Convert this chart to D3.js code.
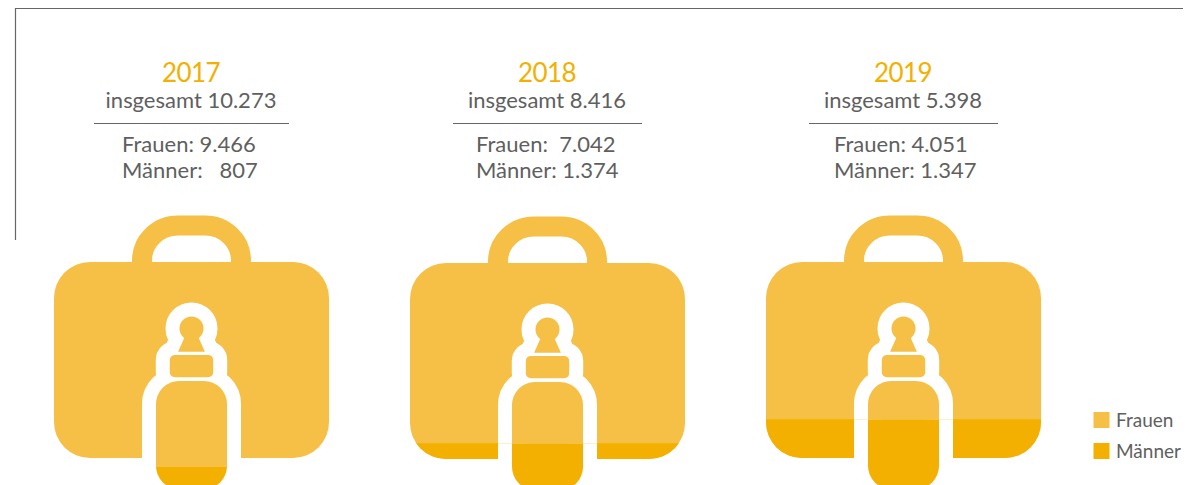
<!DOCTYPE html>
<html>
<head>
<meta charset="utf-8">
<script src="https://cdn.jsdelivr.net/npm/d3@7"></script>
<style>
  html, body { margin: 0; padding: 0; background: #fff; overflow: hidden; }
  text { font-family: Lato, "Open Sans", sans-serif; fill: #5f5f5f; white-space: pre; }
</style>
</head>
<body>
<div id="chart"></div>
<script>
// values
const years = ["2017", "2018", "2019"];
const total = [10273, 8416, 5398];
const frauen = [9466, 7042, 4051];
const maenner = [807, 1374, 1347];
const seriesNames = ["Frauen", "Männer"];

const width = 1192, height = 485;
const lightCol = "#f6c046", darkCol = "#f3b000", lineCol = "#666666";

const svg = d3.select("#chart").append("svg")
  .attr("width", width)
  .attr("height", height)
  .style("display", "block");

// german number format, 10.273
const de = d3.formatLocale({ decimal: ",", thousands: ".", grouping: [3], currency: ["", " €"] });
const fmt = de.format(",d");

const xScale = d3.scalePoint().domain(years).range([191.5, 903.5]);
// share of men -> fill level of the icon
const yScale = d3.scaleLinear().domain([0, 1]).range([489, 209]);
const colorScale = d3.scaleOrdinal().domain(seriesNames).range([lightCol, darkCol]);

// frame top left
svg.append("path")
  .attr("d", d3.line()([[15.5, 240], [15.5, 8.5], [1183, 8.5]]))
  .attr("fill", "none")
  .attr("stroke", lineCol)
  .attr("stroke-width", 1.2);

// one suitcase + bottle in a given colour, local x is centred
function drawIcon(g, col) {
  g.append("rect") // handle
    .attr("x", -49.5).attr("y", 225.5)
    .attr("width", 99).attr("height", 70)
    .attr("rx", 36)
    .attr("fill", "none").attr("stroke", col).attr("stroke-width", 20);
  g.append("rect") // case
    .attr("x", -137.5).attr("y", 262)
    .attr("width", 275).attr("height", 196)
    .attr("rx", 36)
    .attr("fill", col);

  // bottle: white halo first, then the parts on top
  [["#fff", 28], [col, 0]].forEach(([c, sw]) => {
    const b = g.append("g")
      .attr("fill", c)
      .attr("stroke", sw ? c : "none")
      .attr("stroke-width", sw)
      .attr("stroke-linejoin", "round");
    b.append("circle").attr("cx", 0).attr("cy", 328.5).attr("r", 12);
    b.append("path").attr("d", "M-6.8,337L6.8,337L13.4,351.7L-13.4,351.7Z");
    b.append("rect")
      .attr("x", -21.7).attr("y", 355)
      .attr("width", 43.4).attr("height", 22.3)
      .attr("rx", 5);
    b.append("rect")
      .attr("x", -35.5).attr("y", 381)
      .attr("width", 71).attr("height", 108)
      .attr("rx", 23);
  });
}

const dy = [0, 1, 0]; // middle icon sits a pixel lower
const ruleHalf = [97.5, 94.5, 94.5]; // rule under the total, first one is wider
const labelLeft = [69.5, 71.5, 69.5];

years.forEach((yr, i) => {
  const cx = xScale(yr);
  const share = maenner[i] / total[i];

  const light = svg.append("g").attr("transform", `translate(${cx},${dy[i]})`);
  drawIcon(light, lightCol);

  svg.append("clipPath").attr("id", "level" + i)
    .append("rect")
    .attr("x", 0).attr("y", yScale(share))
    .attr("width", width).attr("height", height - yScale(share));

  const dark = svg.append("g")
    .attr("clip-path", `url(#level${i})`)
    .append("g")
    .attr("transform", `translate(${cx},${dy[i]})`);
  drawIcon(dark, darkCol);

  // labels
  svg.append("text")
    .attr("x", cx - 0.5).attr("y", 82)
    .attr("text-anchor", "middle")
    .attr("font-size", 26)
    .attr("letter-spacing", -0.6)
    .style("fill", darkCol)
    .text(yr);
  svg.append("text")
    .attr("x", cx - 0.5).attr("y", 108)
    .attr("text-anchor", "middle")
    .attr("font-size", 22)
    .text("insgesamt " + fmt(total[i]));
  svg.append("line")
    .attr("x1", cx - ruleHalf[i]).attr("x2", cx + ruleHalf[i])
    .attr("y1", 123.5).attr("y2", 123.5)
    .attr("stroke", lineCol)
    .attr("stroke-width", 1.2);
  svg.append("text")
    .attr("x", cx - labelLeft[i]).attr("y", 152)
    .attr("font-size", 22)
    .text("Frauen: " + (i == 1 ? " " : "") + fmt(frauen[i]));
  svg.append("text")
    .attr("x", cx - labelLeft[i]).attr("y", 178)
    .attr("font-size", 22)
    .text("Männer: " + (maenner[i] < 1000 ? "  " : "") + fmt(maenner[i]));
});

// legend
const legend = svg.selectAll(".legend")
  .data(seriesNames)
  .enter()
  .append("g")
  .attr("class", "legend")
  .attr("transform", (d, i) => `translate(1093.5,${412 + i * 31})`);
legend.append("rect")
  .attr("width", 16).attr("height", 16)
  .attr("fill", d => colorScale(d));
legend.append("text")
  .attr("x", 22.5).attr("y", 15)
  .attr("font-size", 19)
  .text(d => d);
</script>
</body>
</html>
